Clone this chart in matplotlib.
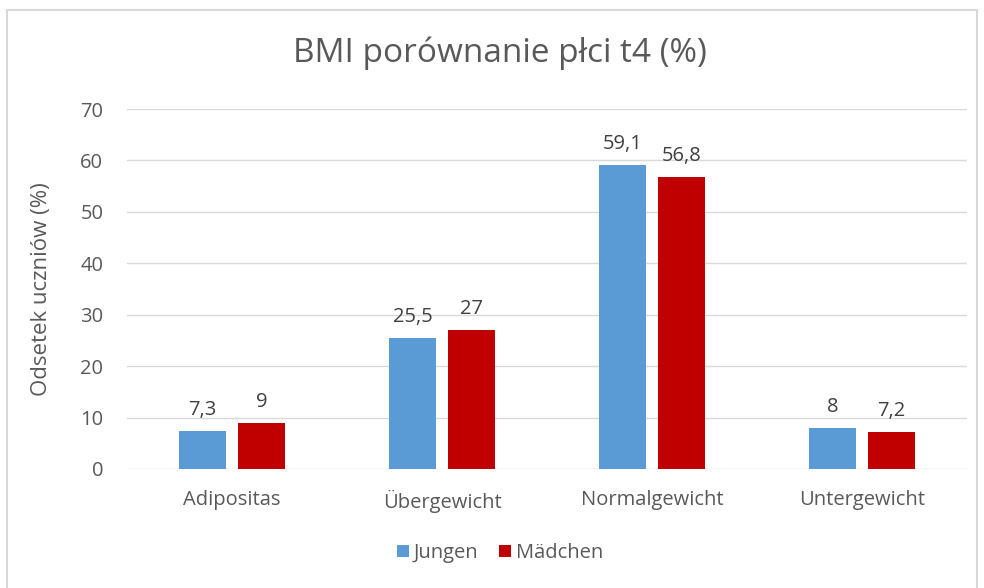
import numpy as np
import matplotlib.pyplot as plt
from matplotlib.patches import Rectangle

plt.rcParams['font.family'] = ['Open Sans', 'DejaVu Sans']

categories = ['Adipositas', 'Übergewicht', 'Normalgewicht', 'Untergewicht']
jungen = [7.3, 25.5, 59.1, 8]
maedchen = [9, 27, 56.8, 7.2]
labels_j = ['7,3', '25,5', '59,1', '8']
labels_m = ['9', '27', '56,8', '7,2']

fig = plt.figure(figsize=(9.84, 5.88), dpi=100)
ax = fig.add_axes([0.129, 0.2024, 0.854, 0.6122])

x = np.arange(len(categories))
w = 0.224
gap = 0.057
b1 = ax.bar(x - (w + gap) / 2, jungen, w, color='#5B9BD5', label='Jungen', zorder=3)
b2 = ax.bar(x + (w + gap) / 2, maedchen, w, color='#C00000', label='Mädchen', zorder=3)
ax.bar_label(b1, labels=labels_j, padding=8, fontsize=14.5, color='#404040')
ax.bar_label(b2, labels=labels_m, padding=8, fontsize=14.5, color='#404040')

ax.set_xlim(-0.5, 3.5)
ax.set_ylim(0, 70)
ax.set_yticks(range(0, 71, 10))
ax.set_xticks(x)
ax.set_xticklabels(categories)
ax.tick_params(axis='both', length=0, labelsize=14.5, labelcolor='#595959')
ax.tick_params(axis='y', pad=17)
ax.tick_params(axis='x', pad=15)
ax.grid(axis='y', color='#D9D9D9', linewidth=1, zorder=0)
for s in ax.spines.values():
    s.set_visible(False)

ax.set_ylabel('Odsetek uczniów (%)', fontsize=16, color='#595959', labelpad=20)
fig.text(0.508, 0.91, 'BMI porównanie płci t4 (%)', ha='center', va='center',
         fontsize=24, color='#595959')

ax.legend(loc='center', bbox_to_anchor=(0.5, 0.0), bbox_transform=fig.transFigure,
          ncol=2, frameon=False, fontsize=14.5, labelcolor='#595959',
          handlelength=0.6, handleheight=0.6, handletextpad=0.25, columnspacing=1.0)
ax.get_legend().set_bbox_to_anchor((0.508, 1 - 553 / 588), transform=fig.transFigure)

fig.patches.append(Rectangle((7 / 984, -0.01), 970 / 984, 1 - 10 / 588 + 0.01,
                             transform=fig.transFigure, fill=False,
                             edgecolor='#D9D9D9', linewidth=1.5))

fig.savefig('out.png', dpi=100)
